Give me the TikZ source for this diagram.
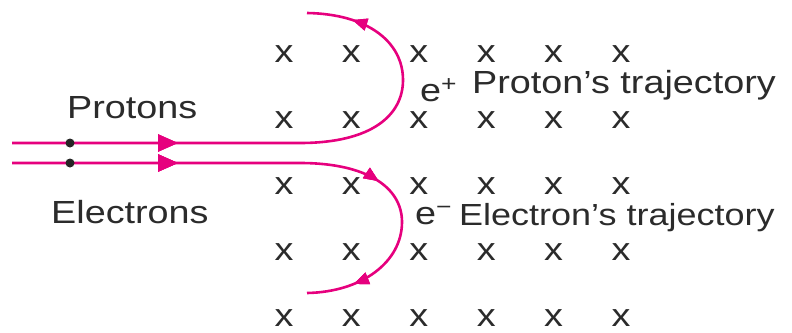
\documentclass[tikz,border=0pt]{standalone}
\usepackage{fontspec}
\setmainfont{Liberation Sans}[FakeStretch=1.18]
\usepackage{xcolor}
\usetikzlibrary{arrows.meta,decorations.markings}
\definecolor{TrackPink}{HTML}{E6007E}
\definecolor{InkGray}{HTML}{2B2B2B}
\tikzset{
  lbl/.style={inner sep=0pt, anchor=base west, text=InkGray},
  fieldmark/.style={inner sep=0pt, text depth=0pt, anchor=base, text=InkGray},
  beamdot/.style={circle, fill=black!85, inner sep=0pt, minimum size=9pt},
  track/.style={draw=TrackPink, line width=2.6pt},
  beamtip/.style={decoration={markings,
      mark=at position 166pt with {\arrow[TrackPink]{Triangle[length=20pt,width=17pt]}}},
    postaction={decorate}},
  curvetip/.style={decoration={markings,
      mark=at position #1 with {\arrow[TrackPink]{Triangle[length=15pt,width=12pt]}}},
    postaction={decorate}}
}

\begin{document}
\begin{tikzpicture}[x=1pt, y=-1pt, font=\fontsize{32}{37}\selectfont]
    \useasboundingbox (0,0) rectangle (792,332);

    % magnetic field into the page
    \foreach \row in {0,...,4}
      \foreach \col in {0,...,5}
        \node[fieldmark] (x-\row-\col) at ({284+67.4*\col},{62+66*\row}) {x};

    % proton beam
    \coordinate (pstart) at (12,143);
    \coordinate (pturn) at (300,143);
    \coordinate (papex) at (403,80);
    \coordinate (pend) at (307,13);
    \draw[track, beamtip, curvetip=-46pt] (pstart) -- (pturn)
      .. controls (372,143) and (403,115) .. (papex)
      .. controls (403,42) and (368,14) .. (pend);

    % electron beam
    \coordinate (estart) at (12,163);
    \coordinate (eturn) at (300,163);
    \coordinate (eapex) at (402,222);
    \coordinate (eend) at (307,293);
    \draw[track, beamtip, curvetip=370pt, curvetip=-48pt] (estart) -- (eturn)
      .. controls (368,163) and (402,188) .. (eapex)
      .. controls (402,262) and (362,292) .. (eend);

    \node[beamdot] (pdot) at (70,143) {};
    \node[beamdot] (edot) at (70,163) {};

    \node[lbl] (protons) at (67,118) {Protons};
    \node[lbl] (electrons) at (51,223) {Electrons};
    \node[lbl] (eplus) at (420,101) {e\textsuperscript{+}};
    \node[lbl] (ptraj) at (472,93) {Proton’s trajectory};
    \node[lbl] (eminus) at (415,224) {e\textsuperscript{−}};
    \node[lbl, font=\fontsize{30.5}{36}\selectfont] (etraj) at (459,225) {Electron’s trajectory};
  \end{tikzpicture}
\end{document}
